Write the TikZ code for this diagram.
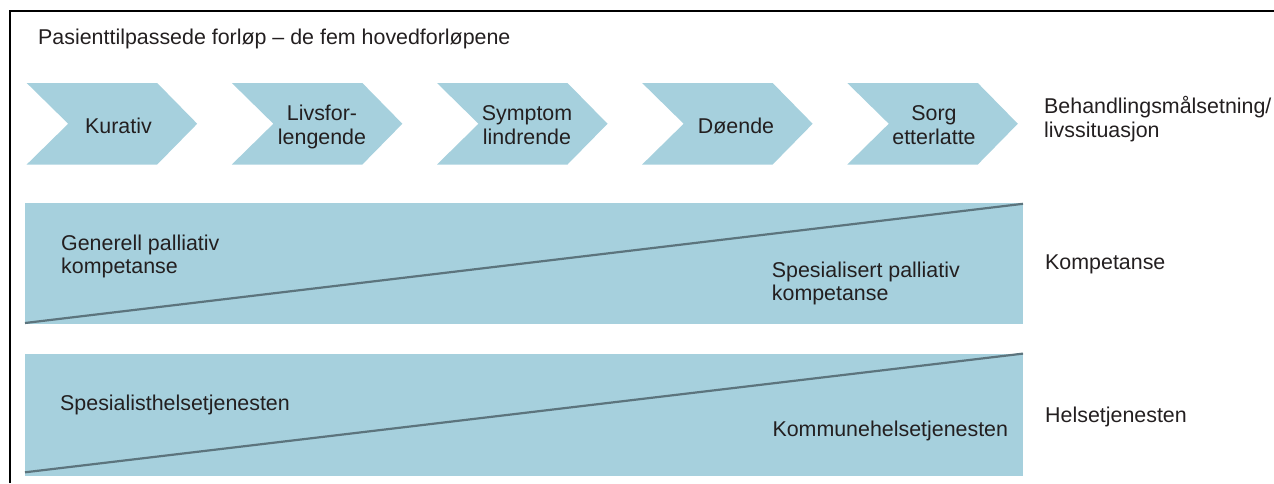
\documentclass[tikz,border=0pt]{standalone}
\usepackage{fontspec}
\setmainfont{Liberation Sans}
\definecolor{fillblue}{RGB}{166,208,221}
\definecolor{diagline}{RGB}{92,116,125}
\definecolor{txt}{RGB}{35,31,32}
\begin{document}
\begin{tikzpicture}[x=1pt,y=-1pt,
  lbl/.style={inner sep=0pt,text=txt,font=\fontsize{21.4}{24}\selectfont},
  lblc/.style={lbl,align=center,anchor=base},
  lbll/.style={lbl,align=left,anchor=base west},
  rectlbl/.style={lbl,align=left,anchor=base west,font=\fontsize{21.4}{23}\selectfont},
  chevfill/.style={fill=fillblue},
  diag/.style={draw=diagline,line width=2.2pt}]
\useasboundingbox (0,0) rectangle (1274,483);
% frame
\draw[line width=2pt] (9.5,483) -- (9.5,11) -- (1274,11);
% title
\node[lbll] (title) at (38,44) {Pasienttilpassede forløp – de fem hovedforløpene};
% chevrons
\foreach \i in {0,...,4}{
  \pgfmathsetmacro{\xo}{26.7+205.15*\i}
  \fill[chevfill] (\xo,83) -- ++(130.5,0) -- ++(40,40.75) -- ++(-40,40.75) -- ++(-130.5,0) -- ++(41.5,-40.75) -- cycle;
}
% multi-line nodes: base anchor is the baseline of the last line
\node[lblc] (kur) at (118.5,133) {Kurativ};
\node[lblc] (livs) at (322,144) {Livsfor-\\lengende};
\node[lblc] (symp) at (527,144) {Symptom\\lindrende};
\node[lblc] (doe) at (736,133) {Døende};
\node[lblc] (sorg) at (934,144) {Sorg\\etterlatte};
\node[lbll,font=\fontsize{21.4}{24.4}\selectfont] (beh) at (1044,137.7) {Behandlingsmålsetning/\\livssituasjon};
% competence band
\fill[fillblue] (25,203.3) rectangle (1023,324.3);
\coordinate (k1) at (25,323);
\coordinate (k2) at (1023,203.8);
\draw[diag] (k1) -- (k2);
\node[rectlbl] (gen) at (61,273.3) {Generell palliativ\\kompetanse};
\node[rectlbl] (spes) at (771.7,300.7) {Spesialisert palliativ\\kompetanse};
\node[lbll] (komp) at (1045,269.3) {Kompetanse};
% health services band
\fill[fillblue] (25,354) rectangle (1023,475.7);
\coordinate (h1) at (25,472.3);
\coordinate (h2) at (1023,353.6);
\draw[diag] (h1) -- (h2);
\node[lbll] (spht) at (60,410) {Spesialisthelsetjenesten};
\node[lbll] (kht) at (772.3,436.7) {Kommunehelsetjenesten};
\node[lbll] (helse) at (1045,422.7) {Helsetjenesten};
\end{tikzpicture}
\end{document}
